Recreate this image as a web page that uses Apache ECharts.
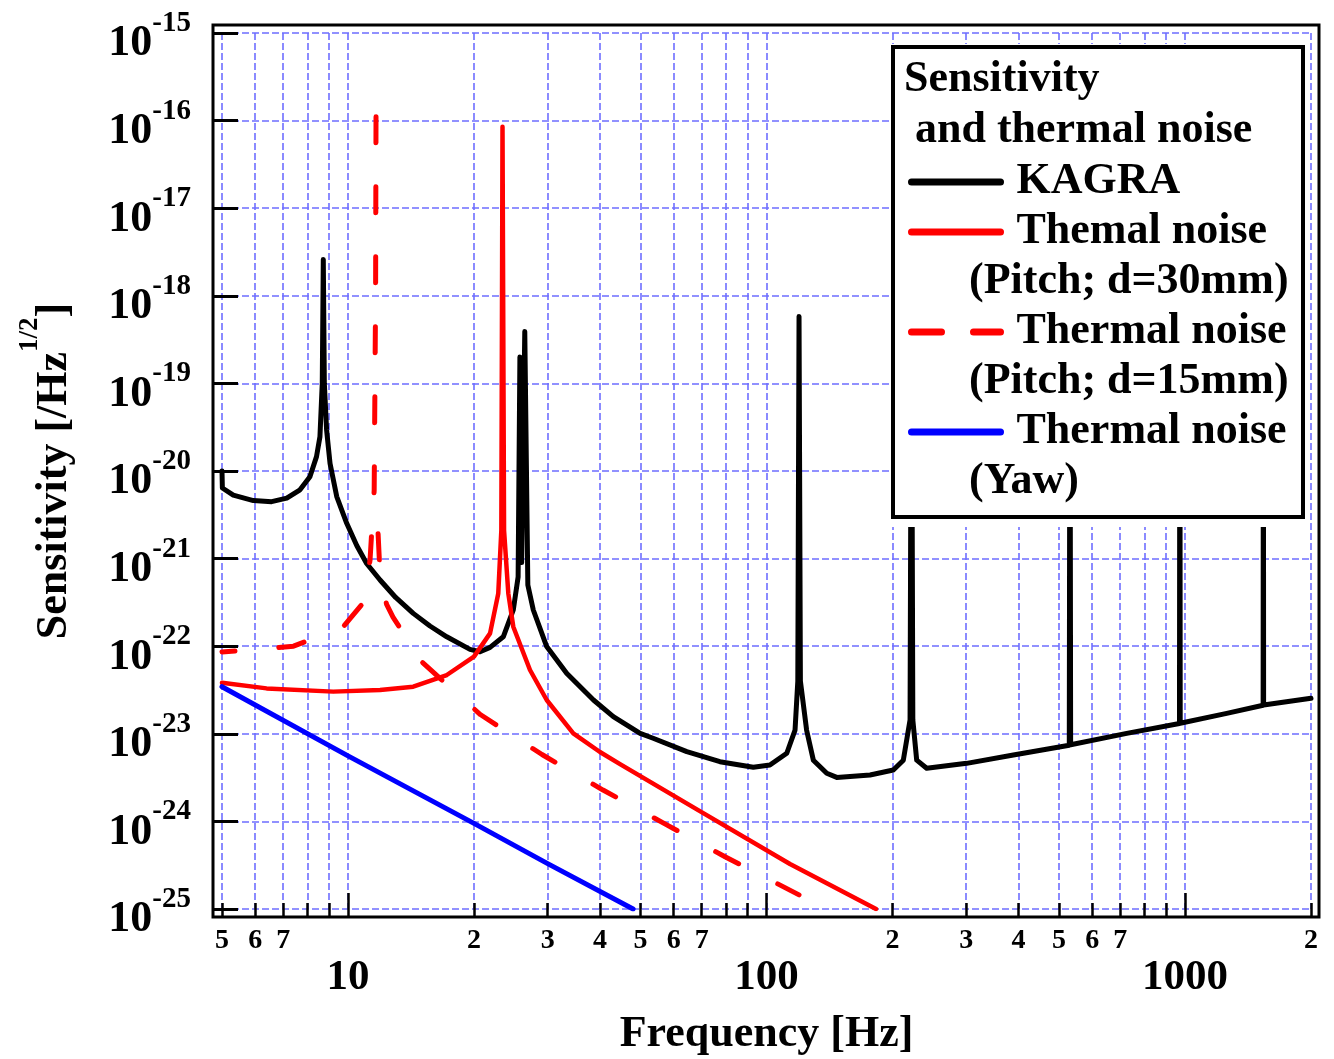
<!DOCTYPE html>
<html>
<head>
<meta charset="utf-8">
<script src="https://cdn.jsdelivr.net/npm/echarts@6/dist/echarts.min.js"></script>
<style>
  html, body { margin: 0; padding: 0; background: #fff; }
  #main { width: 1334px; height: 1059px; }
</style>
</head>
<body>
<div id="main"></div>
<script>
// frequency [Hz], sensitivity [/Hz^1/2]
var kagra = [
  [5.0, 1.0e-20], [5.01, 6.4e-21], [5.32, 5.3e-21], [5.94, 4.6e-21], [6.57, 4.47e-21],
  [7.14, 4.9e-21], [7.68, 6.1e-21], [8.11, 8.6e-21], [8.41, 1.46e-20], [8.57, 2.46e-20],
  [8.68, 1.0e-19], [8.73, 2.6e-18], [8.78, 1.0e-19], [8.89, 2.94e-20], [9.06, 1.22e-20],
  [9.40, 5.1e-21], [9.93, 2.53e-21], [10.5, 1.4e-21], [11.08, 8.8e-22], [11.93, 5.7e-22],
  [13.0, 3.6e-22], [14.32, 2.37e-22], [15.7, 1.7e-22], [17.22, 1.28e-22], [19.57, 9.2e-23],
  [20.68, 8.65e-23], [21.85, 9.7e-23], [23.5, 1.28e-22], [24.83, 2.59e-22], [25.5, 6.2e-22],
  [25.75, 2.0e-19], [26.0, 9.0e-22], [26.45, 3.9e-19], [26.9, 5.0e-22], [27.72, 2.59e-22],
  [29.84, 9.9e-23], [33.3, 4.9e-23], [38.6, 2.43e-23], [43.05, 1.57e-23], [49.9, 1.01e-23],
  [53.6, 8.9e-24], [64.5, 6.25e-24], [77.4, 4.8e-24], [93.0, 4.15e-24], [101.9, 4.4e-24],
  [111.8, 6.0e-24], [117.0, 1.1e-23], [118.8, 4.0e-23], [119.6, 5.8e-19], [120.5, 4.0e-23],
  [124.7, 1.1e-23], [129.4, 5.0e-24], [139.3, 3.54e-24], [147.2, 3.18e-24], [176.8, 3.39e-24],
  [200.9, 3.86e-24], [212.3, 5.0e-24], [220.3, 1.44e-23], [222.0, 1.5e-18], [223.7, 1.44e-23],
  [228.5, 5.0e-24], [241.4, 4.04e-24], [300.8, 4.6e-24], [388.9, 5.73e-24], [529, 7.4e-24],
  [531, 1.5e-18], [533, 7.5e-24], [725.6, 1.01e-23], [970, 1.31e-23], [972, 1.5e-18],
  [974, 1.32e-23], [1258, 1.71e-23], [1537, 2.12e-23], [1539, 1.5e-18], [1541, 2.13e-23],
  [2000, 2.54e-23]
];
var thermalPitch30 = [
  [5, 3.83e-23], [6.39, 3.3e-23], [9.22, 3.03e-23], [11.93, 3.16e-23], [14.32, 3.45e-23],
  [17.22, 4.69e-23], [20.0, 7.6e-23], [21.85, 1.4e-22], [22.86, 4.0e-22], [23.25, 2.1e-21],
  [23.4, 8.5e-17], [23.6, 2.1e-21], [24.16, 4.0e-22], [24.83, 1.67e-22], [27.22, 5.35e-23],
  [29.84, 2.43e-23], [34.54, 1.01e-23], [40.0, 6.2e-24], [44.67, 4.5e-24], [69.3, 1.31e-24],
  [113.8, 3.26e-25], [182.7, 1.0e-25]
];
// d=15mm curve: rising flank up to the resonance tip, and the falling flank after it
var thermalPitch15Rise = [
  [5, 8.6e-23], [5.83, 9.06e-23], [7.41, 1.0e-22], [9.73, 1.66e-22], [10.86, 3.1e-22],
  [11.29, 9.6e-22], [11.55, 6.0e-21], [11.64, 1.0e-18], [11.67, 1.8e-16]
];
var thermalPitch15Fall = [
  [11.75, 3.0e-21], [11.93, 6.5e-22], [12.36, 3.03e-22], [12.81, 2.15e-22], [15.07, 6.5e-23],
  [20.71, 1.66e-23], [29.08, 5.8e-24], [40.68, 2.28e-24], [56.9, 9.5e-25], [79.6, 3.95e-25],
  [119.6, 1.45e-25]
];
var thermalYaw = [[5, 3.45e-23], [10, 5.6e-24], [20, 9.5e-25], [30, 3.3e-25], [48, 1.0e-25]];

var seriesNames = ['KAGRA', 'Themal noise (Pitch; d=30mm)', 'Thermal noise (Pitch; d=15mm)', 'Thermal noise (Yaw)'];
var yTicks = [1e-25, 1e-24, 1e-23, 1e-22, 1e-21, 1e-20, 1e-19, 1e-18, 1e-17, 1e-16, 1e-15];
var xMinorTicks = [5, 6, 7, 8, 9, 20, 30, 40, 50, 60, 70, 80, 90, 200, 300, 400, 500, 600, 700, 800, 900, 2000];
var xMinorLabels = [5, 6, 7, 20, 30, 40, 50, 60, 70, 200, 300, 400, 500, 600, 700, 2000];
var xMajorTicks = [10, 100, 1000];

var FONT = 'Liberation Serif';
var GRID = { left: 222, right: 23, top: 33, bottom: 150 };
var PAD = 8;
var W = 1334, H = 1059;
var GRIDLINE = { show: true, lineStyle: { color: '#6e6eff', width: 1.6, type: [7, 3] } };
var legendCenters = [182, 232, 332, 432];

function lineSeries(name, data, color, width, type, dashOffset) {
  return {
    name: name, type: 'line', data: data, symbol: 'none', showSymbol: false,
    silent: true, z: 2,
    lineStyle: { color: color, width: width, type: type, cap: 'round', join: 'round', dashOffset: dashOffset || 0 },
    itemStyle: { color: color }
  };
}

function xAxisBase() {
  return {
    type: 'log', logBase: 10, min: 5, max: 2000, position: 'bottom', offset: PAD, gridIndex: 0,
    axisLine: { show: false }
  };
}

var xMinor = xAxisBase();
xMinor.axisTick = { show: true, inside: true, length: 14, customValues: xMinorTicks, lineStyle: { color: '#000', width: 2.5 } };
xMinor.splitLine = GRIDLINE;
xMinor.axisLabel = {
  show: true, margin: 10, customValues: xMinorLabels,
  fontFamily: FONT, fontWeight: 'bold', fontSize: 28, color: '#000',
  formatter: function (v) { return String(Math.round(v / Math.pow(10, Math.floor(Math.log10(v) + 1e-9)))); }
};

var xMajor = xAxisBase();
xMajor.axisTick = { show: true, inside: true, length: 24, customValues: xMajorTicks, lineStyle: { color: '#000', width: 2.5 } };
xMajor.splitLine = GRIDLINE;
xMajor.axisLabel = {
  show: true, margin: 39, customValues: xMajorTicks,
  fontFamily: FONT, fontWeight: 'bold', fontSize: 43, color: '#000',
  formatter: function (v) { return String(Math.round(v)); }
};
xMajor.name = 'Frequency [Hz]';
xMajor.nameLocation = 'middle';
xMajor.nameGap = 96;
xMajor.nameTextStyle = { fontFamily: FONT, fontWeight: 'bold', fontSize: 44, color: '#000' };

var legends = seriesNames.map(function (name, i) {
  return {
    data: [name], left: 908, top: legendCenters[i] - 23, orient: 'vertical', padding: 0,
    itemWidth: 89, itemHeight: 14, selectedMode: false, z: 200,
    formatter: function (n) { return n.replace(/ \(.*$/, ''); },
    textStyle: { fontFamily: FONT, fontWeight: 'bold', fontSize: 44, lineHeight: 46, color: '#000', padding: [0, 0, 0, 11] },
    lineStyle: { width: 7, cap: 'round', type: i === 2 ? [30, 32] : 'solid', dashOffset: 0 },
    itemStyle: { color: 'rgba(0,0,0,0)', borderWidth: 0 }
  };
});

var graphics = [
  { type: 'rect', z: 50, silent: true,
    shape: { x: GRID.left - PAD - 1, y: GRID.top - PAD, width: W - GRID.left - GRID.right + 2 * PAD + 1, height: H - GRID.top - GRID.bottom + 2 * PAD },
    style: { fill: 'none', stroke: '#000', lineWidth: 3 } },
  { type: 'rect', z: 100, silent: true, shape: { x: 889, y: 44, width: 420, height: 483 }, style: { fill: '#fff' } },
  { type: 'rect', z: 101, silent: true, shape: { x: 893, y: 47, width: 410, height: 470 }, style: { fill: 'none', stroke: '#000', lineWidth: 4 } }
];
seriesNames.slice(1).forEach(function (name, i) {
  graphics.push({
    type: 'text', z: 300, silent: true, x: 969, y: legendCenters[i + 1] + 50,
    style: { text: name.match(/\(.*\)$/)[0], font: 'bold 44px "' + FONT + '"', fill: '#000', verticalAlign: 'middle', align: 'left' }
  });
});

var option = {
  backgroundColor: '#fff',
  animation: false,
  grid: { left: GRID.left, right: GRID.right, top: GRID.top, bottom: GRID.bottom, containLabel: false, outerBoundsMode: 'none' },
  title: {
    text: 'Sensitivity\n and thermal noise', left: 904, top: 54, padding: 0, z: 200,
    textStyle: { fontFamily: FONT, fontWeight: 'bold', fontSize: 44, lineHeight: 51, color: '#000' }
  },
  legend: legends,
  xAxis: [xMinor, xMajor],
  yAxis: {
    type: 'log', logBase: 10, min: 1e-25, max: 1e-15, position: 'left', offset: PAD,
    axisLine: { show: false },
    axisTick: { show: true, inside: true, length: 24, customValues: yTicks, lineStyle: { color: '#000', width: 3 } },
    splitLine: GRIDLINE,
    axisLabel: {
      show: true, margin: 23, customValues: yTicks,
      formatter: function (v) { return '{b|10}{s|' + Math.round(Math.log10(v)) + '}'; },
      rich: {
        b: { fontFamily: FONT, fontWeight: 'bold', fontSize: 44, color: '#000', verticalAlign: 'bottom', padding: [22, 0, 0, 0] },
        s: { fontFamily: FONT, fontWeight: 'bold', fontSize: 29, color: '#000', verticalAlign: 'top', padding: [9, 0, 0, 0] }
      }
    },
    name: '{n|Sensitivity [/Hz}{s|1/2}{n|]}',
    nameLocation: 'middle',
    nameRotate: 90,
    nameGap: 137,
    nameTextStyle: {
      rich: {
        n: { fontFamily: FONT, fontWeight: 'bold', fontSize: 44, color: '#000', verticalAlign: 'bottom', padding: [16, 0, 0, 0] },
        s: { fontFamily: FONT, fontWeight: 'bold', fontSize: 27, color: '#000', verticalAlign: 'top' }
      }
    }
  },
  graphic: { elements: graphics },
  series: [
    lineSeries(seriesNames[0], kagra, '#000000', 5, 'solid'),
    lineSeries(seriesNames[1], thermalPitch30, '#ff0000', 4.5, 'solid'),
    lineSeries(seriesNames[2], thermalPitch15Rise, '#ff0000', 5, [26, 44], 13),
    lineSeries(seriesNames[2], thermalPitch15Fall, '#ff0000', 5, [26, 44], 53),
    lineSeries(seriesNames[3], thermalYaw, '#0000ff', 5, 'solid')
  ]
};

var myChart = echarts.init(document.getElementById('main'));
myChart.setOption(option);
</script>
</body>
</html>
